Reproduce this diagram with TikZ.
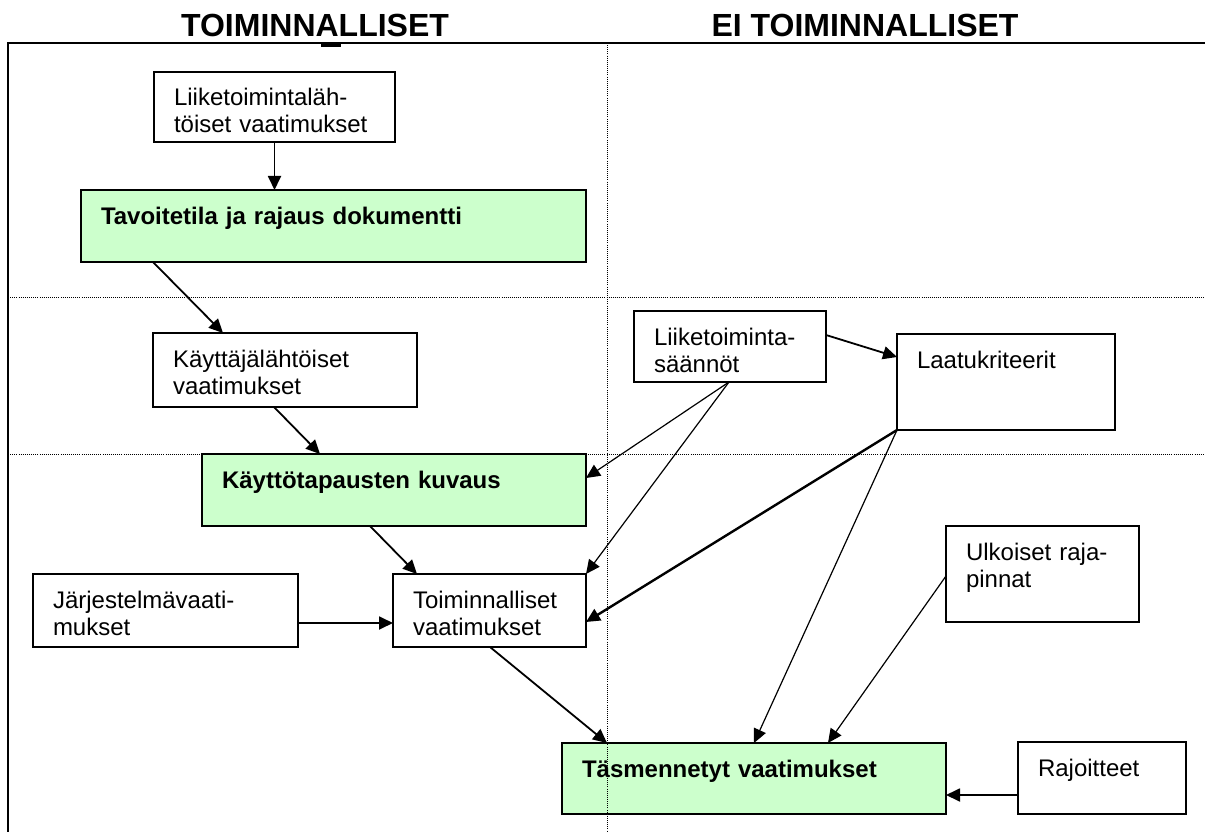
\documentclass[tikz,border=0pt]{standalone}
\usepackage{fontspec}
\setmainfont{Liberation Sans}
\usetikzlibrary{arrows.meta}
\definecolor{boxgreen}{HTML}{CCFFCC}
\newcommand{\bodyfont}{\fontsize{24pt}{27pt}\selectfont}
\newcommand{\headfont}{\fontsize{32pt}{36pt}\selectfont\bfseries}

\begin{document}
\begin{tikzpicture}[x=1pt, y=-1pt,
  box/.style={draw=black, line width=1.8pt, fill=white, anchor=north west,
    inner xsep=20pt, inner ysep=0pt, outer sep=0pt, text height=34pt,
    align=left, font=\bodyfont},
  greenbox/.style={box, fill=boxgreen, font=\bodyfont\bfseries},
  arr/.style={line width=1.8pt, -{Triangle[length=14pt,width=13pt]}},
  thinarr/.style={arr, line width=1.2pt},
  heavyarr/.style={arr, line width=2.4pt},
  frame/.style={line width=2.2pt},
  grid/.style={line width=0.9pt, dash pattern=on 0.9pt off 1.2pt},
  heading/.style={anchor=base, font=\headfont, inner sep=0pt}
]
\useasboundingbox (0,0) rectangle (1205,832);

% column headings
\node[heading] (h1) at (315,37) {TOIMINNALLISET};
\node[heading] (h2) at (865,37) {EI TOIMINNALLISET};

% frame
\draw[frame] (8,832) -- (8,43) -- (1205,43);
\fill (321,43) rectangle (341,47);

% left column
\node[box, text width=201pt, text depth=36pt] (b1) at (154,72) {Liiketoimintaläh-\\töiset vaatimukset};
\node[greenbox, text width=465pt, text depth=38pt] (g1) at (81,190) {Tavoitetila ja rajaus dokumentti};
\node[box, text width=224pt, text depth=40pt] (b2) at (153,333) {Käyttäjälähtöiset\\vaatimukset};
\node[greenbox, text width=344pt, text depth=38pt] (g2) at (202,454) {Käyttötapausten kuvaus};
\node[box, text width=225pt, text depth=39pt] (b3) at (33,574) {Järjestelmävaati-\\mukset};
\node[box, text width=153pt, text depth=39pt] (b4) at (393,574) {Toiminnalliset\\vaatimukset};
\node[greenbox, text width=344pt, text depth=37pt] (g3) at (562,743) {Täsmennetyt vaatimukset};

% right column
\node[box, text width=152pt, text depth=37pt] (b5) at (634,311) {Liiketoiminta-\\säännöt};
\node[box, text width=178pt, text depth=62pt] (b6) at (897,334) {Laatukriteerit};
\node[box, text width=153pt, text depth=62pt] (b7) at (946,526) {Ulkoiset raja-\\pinnat};
\node[box, text width=128pt, text depth=38pt] (b8) at (1018,742) {Rajoitteet};

% dotted section lines
\draw[grid] (607,43) -- (607,832);
\draw[grid] (8,297) -- (1205,297);
\draw[grid] (8,454) -- (1205,454);

% connector end points
\coordinate (sysout) at ([yshift=-49pt]b3.north east);
\coordinate (ruleout) at ([xshift=95pt]b5.south west);
\coordinate (limout) at ([yshift=-53pt]b8.north west);

% connectors
\draw[arr] (b1.south) -- (b1.south |- g1.north);
\draw[arr] ([xshift=72pt]g1.south west) -- ([xshift=70pt]b2.north west);
\draw[arr] ([xshift=121pt]b2.south west) -- ([xshift=118pt]g2.north west);
\draw[arr] ([xshift=168pt]g2.south west) -- ([xshift=24pt]b4.north west);
\draw[arr] (sysout) -- (b4.west |- sysout);
\draw[arr] ([xshift=97pt]b4.south west) -- ([xshift=45pt]g3.north west);
\draw[arr] ([yshift=-24pt]b5.north east) -- ([yshift=-23pt]b6.north west);
\draw[thinarr] (ruleout) -- ([yshift=-24pt]g2.north east);
\draw[thinarr] (ruleout) -- (b4.north east);
\draw[heavyarr] (b6.south west) -- ([yshift=-48pt]b4.north east);
\draw[thinarr] (b6.south west) -- ([xshift=192pt]g3.north west);
\draw[thinarr] ([yshift=-50pt]b7.north west) -- ([xshift=266pt]g3.north west);
\draw[arr] (limout) -- (g3.east |- limout);
\end{tikzpicture}
\end{document}
